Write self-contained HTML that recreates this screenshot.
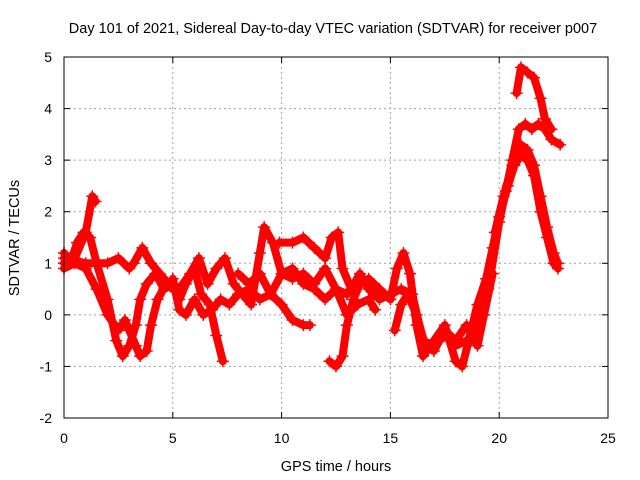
<!DOCTYPE html>
<html><head><meta charset="utf-8"><style>
body{margin:0;background:#fff}
svg{display:block;font-family:"Liberation Sans",sans-serif}
</style></head><body>
<svg id="chart" width="640" height="480">
<text x="333" y="33" font-size="14.5" text-anchor="middle">Day 101 of 2021, Sidereal Day-to-day VTEC variation (SDTVAR) for receiver p007</text>
<text x="336" y="471" font-size="14.5" text-anchor="middle">GPS time / hours</text>
<text transform="translate(19,238) rotate(-90)" font-size="14.5" text-anchor="middle">SDTVAR / TECUs</text>
<g id="grid"></g><g id="ticks"></g><g id="marks"></g>
<rect x="64" y="57" width="544" height="361" fill="none" stroke="#000" stroke-width="1"/>
</svg>
<script>
const xTicks=[0,5,10,15,20,25];
const yTicks=[-2,-1,0,1,2,3,4,5];
const s1=[[0,1.2],[0.3,1.0],[0.6,1.4],[0.9,1.6],[1.2,1.5],[1.5,1.0],[2.0,0.3],[2.4,-0.5],[2.7,-0.8],[3.0,-0.6],[3.3,-0.2],[3.5,0.3],[3.8,0.6],[4.2,0.8],[4.6,0.5],[5.0,0.6],[5.3,0.3],[5.6,0.6],[6.0,0.9],[6.3,0.4],[6.7,0.2],[7.0,-0.4],[7.3,-0.9]];
const s2=[[0,1.0],[0.5,1.1],[1.0,1.6],[1.3,2.3],[1.45,2.2]];
const s3=[[0,0.9],[0.5,1.0],[1.0,0.9],[1.5,0.5],[2.0,0.0],[2.5,-0.3],[2.8,-0.1],[3.0,-0.3],[3.3,-0.6],[3.5,-0.8],[3.8,-0.7],[4.0,-0.2],[4.3,0.3],[4.7,0.6],[5.0,0.5]];
const s4=[[0,1.1],[1,1.0],[2,1.0],[2.5,1.1],[3,0.9],[3.2,1.0],[3.6,1.3],[4,1.0],[4.4,0.8],[4.8,0.6],[5.3,0.5],[5.8,0.8],[6.2,1.1],[6.6,0.6],[7.0,0.9],[7.4,1.1],[7.8,0.6],[8.2,0.4],[8.6,0.2],[9.0,1.2],[9.2,1.7],[9.6,1.4],[10,0.8],[10.5,0.9],[11,0.6],[11.5,0.5],[12,0.3],[12.5,0.5],[13,0.4]];
const s5=[[9.9,1.4],[10.5,1.4],[11,1.5],[11.5,1.3],[12,1.1],[12.3,1.5],[12.6,1.6],[12.8,0.9],[13.2,0.5],[13.6,0.8],[14,0.5],[14.5,0.3],[15,0.4],[15.5,0.5],[16,0.4],[16.5,-0.5],[17,-0.6],[17.5,-0.4],[18,-0.6],[18.5,-0.5],[19,-0.3],[19.5,0.5],[20,1.8],[20.3,2.4],[20.6,3.0],[20.9,3.6],[21.2,3.7],[21.5,3.6],[21.8,3.7],[22.1,3.6],[22.4,3.4],[22.8,3.3]];
const s6=[[12.2,-0.9],[12.5,-1.0],[12.8,-0.8],[13.0,-0.2],[13.3,0.3],[13.6,0.6],[14,0.7],[14.5,0.5],[15,0.3],[15.3,0.9],[15.6,1.2],[15.9,0.8],[16.2,-0.2],[16.5,-0.8],[17,-0.5],[17.5,-0.2],[18,-0.9],[18.3,-1.0],[18.6,-0.5],[19,0.2],[19.4,0.7],[19.7,1.3],[20,1.9],[20.4,2.5],[20.7,2.9],[21,3.1],[21.3,3.0],[21.6,2.7],[21.9,2.0],[22.2,1.5],[22.5,1.0],[22.7,0.9]];
const s7=[[20.8,4.3],[21.0,4.8],[21.3,4.7],[21.6,4.6],[21.9,4.2],[22.1,3.8],[22.4,3.6]];
const s8=[[19.8,1.6],[20.2,2.3],[20.6,2.9],[21,3.3],[21.3,3.2],[21.6,2.9],[21.9,2.3],[22.2,1.7],[22.5,1.2],[22.7,1.0]];
const s9=[[5.0,0.7],[5.3,0.1],[5.6,0.0],[6,0.3],[6.4,0.0],[6.8,0.1],[7.2,0.3],[7.6,0.2],[8,0.4],[8.5,0.5],[9,0.3],[9.5,0.4],[10,0.2],[10.5,-0.1],[11,-0.2],[11.3,-0.2]];
const s10=[[8,0.8],[8.5,0.6],[9,0.8],[9.5,0.4],[10,0.8],[10.5,0.7],[11,0.8],[11.5,0.6],[12,0.9],[12.5,0.5],[13,0.0],[13.5,0.2],[14,0.3],[14.3,0.1]];
const s11=[[15.2,-0.3],[15.5,0.2],[15.8,0.4],[16.2,0.0],[16.6,-0.6],[17.0,-0.7],[17.5,-0.3],[18.0,-0.5],[18.5,-0.2],[19.0,-0.6],[19.3,0.0],[19.7,0.8]];
const series=[s1,s2,s3,s4,s5,s6,s7,s8,s9,s10,s11];
const NS="http://www.w3.org/2000/svg";
const X=v=>64+v*(544/25), Y=v=>418-(v+2)*(361/7);
function mk(t,a,p){const e=document.createElementNS(NS,t);for(const k in a)e.setAttribute(k,a[k]);p.appendChild(e);return e;}
const grid=document.getElementById('grid'),ticks=document.getElementById('ticks'),marks=document.getElementById('marks');
xTicks.forEach(t=>{const x=X(t);
 if(t>0&&t<25){const g=mk('line',{x1:x,x2:x,y1:57,y2:418,stroke:'#a0a0a0','stroke-dasharray':'2,3'},grid);}
 mk('line',{x1:x,x2:x,y1:418,y2:412,stroke:'#000'},ticks);mk('line',{x1:x,x2:x,y1:57,y2:63,stroke:'#000'},ticks);
 const l=mk('text',{x:x,y:443,'font-size':14,'text-anchor':'middle'},ticks);l.textContent=t;
 });
yTicks.forEach(t=>{const y=Y(t);
 if(t>-2&&t<5){const g=mk('line',{x1:64,x2:608,y1:y,y2:y,stroke:'#a0a0a0','stroke-dasharray':'2,3'},grid);}
 mk('line',{x1:64,x2:70,y1:y,y2:y,stroke:'#000'},ticks);mk('line',{x1:608,x2:602,y1:y,y2:y,stroke:'#000'},ticks);
 const l=mk('text',{x:52,y:y+5,'font-size':14,'text-anchor':'end'},ticks);l.textContent=t;
 });
series.forEach((s,i)=>{
 const g=mk('g',{},marks);
 
 
 mk('polyline',{points:s.map(p=>X(p[0])+','+Y(p[1])).join(' '),fill:'none',stroke:'#f00','stroke-width':8,'stroke-linejoin':'round','stroke-linecap':'round'},g);
 s.forEach(p=>{const x=X(p[0]),y=Y(p[1]);
  mk('path',{d:`M${x-6},${y}H${x+6}M${x},${y-6}V${y+6}`,stroke:'#f00','stroke-width':1.5},g);});
});
</script>
</body></html>
